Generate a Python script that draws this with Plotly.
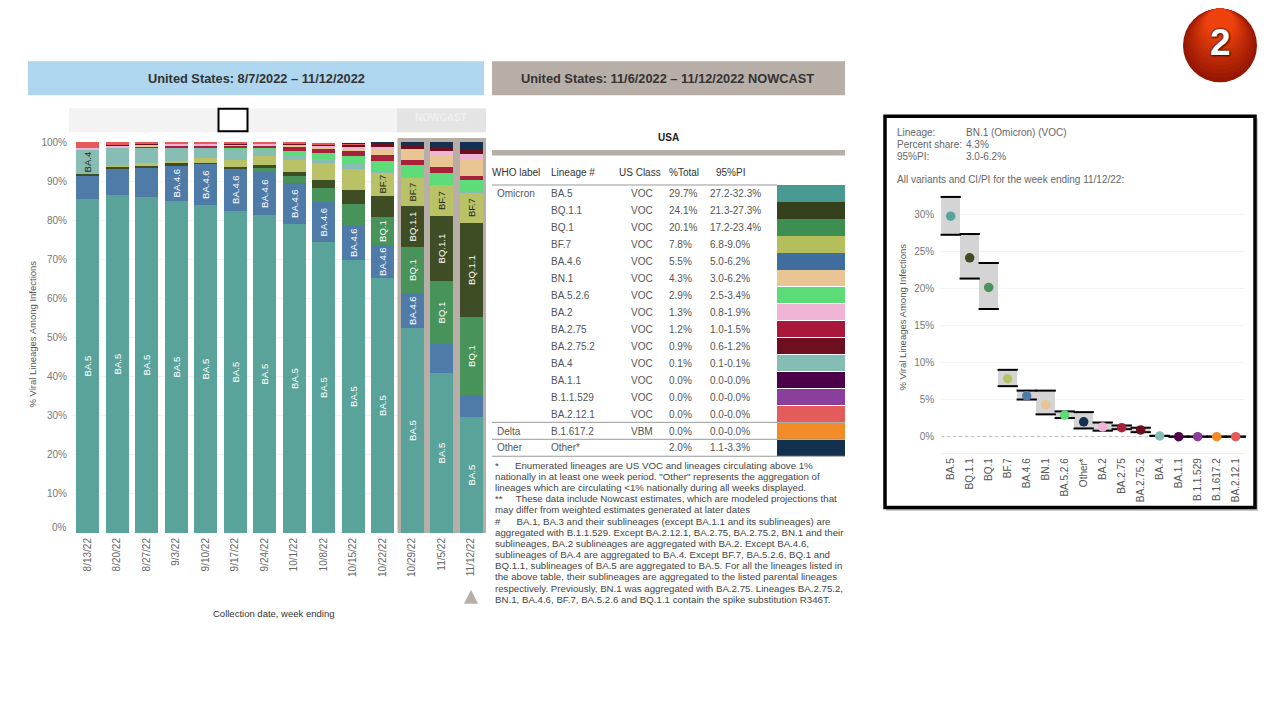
import plotly.graph_objects as go

W, H = 1280, 720
FONT = "Liberation Sans, Arial, sans-serif"
DY = -1.5   # page offset compensation

# ---------- stacked chart data ----------
weeks = ["8/13/22", "8/20/22", "8/27/22", "9/3/22", "9/10/22", "9/17/22", "9/24/22", "10/1/22",
         "10/8/22", "10/15/22", "10/22/22", "10/29/22", "11/5/22", "11/12/22"]
BA5 = [85.5, 86.4, 86, 85, 83.8, 82.3, 81.2, 79.1, 74.5, 69.7, 65.2, 52.4, 41, 29.7]
BA46 = [6, 6.9, 7.6, 9.1, 10.6, 11, 11.1, 10.5, 10.2, 9.1, 8.4, 9, 7.4, 5.5]
BQ1 = [0, 0, 0, 0, 0, 0, 1.3, 1.8, 3.6, 5.3, 7.1, 11.8, 16.1, 20.1]
BQ11 = [.3, .4, .4, .4, .3, .4, .5, .9, 1.9, 3.5, 5.6, 10.3, 16.5, 24.1]
BF7 = [0, .2, .5, .7, 1.2, 1.7, 2.3, 3.1, 4.3, 5.4, 5.9, 7.4, 8, 7.8]
BA4 = [6.2, 4.6, 4.2, 3.5, 2.7, 2.7, 1.7, 1.1, 1.1, 1.4, .1, .1, .1, .1]
BA526 = [0, 0, 0, 0, .1, .4, .4, 1.2, 1.5, 1.9, 2.9, 3, 2.9, 2.9]
BA275 = [.1, .1, .2, .3, .4, .5, .6, 1.1, 1.2, 1.5, 1.5, 1.5, 1.7, 1.2]
BN1 = [.2, .3, .3, .3, .3, .2, .2, .3, .3, .5, 1.4, 2.5, 2.9, 4.3]
BA2 = [.2, .2, .2, .2, .2, .2, .2, .3, .5, .6, .7, .2, 1.1, 1.3]
BA2752 = [0, .1, .1, .1, .1, .2, .2, .3, .3, .4, .6, 1, .9, .9]
BA212 = [1.5, .8, .5, .4, .3, .4, .3, .3, .4, .3, 0, 0, 0, 0]
OTHER = [0, 0, 0, 0, 0, 0, 0, 0, 0, .1, .6, .8, 1.4, 2]

COLORS = {
    "BA.5": "#5aa39b", "BA.4.6": "#4f7ba8", "BQ.1": "#47935a", "BQ.1.1": "#3f4d24",
    "BF.7": "#b9c267", "BA.4": "#88bdb4", "BA.5.2.6": "#5fdc7a", "BA.2.75": "#a8213a",
    "BN.1": "#e8c593", "BA.2": "#f0b4d6", "BA.2.75.2": "#6e0f1f", "BA.2.12.1": "#e35b5b",
    "Other": "#16304f", "BA.1.1": "#4b0049", "B.1.1.529": "#8a3f9c", "B.1.617.2": "#f28c28",
}
stack = [("BA.5", BA5), ("BA.4.6", BA46), ("BQ.1", BQ1), ("BQ.1.1", BQ11), ("BF.7", BF7), ("BA.4", BA4),
         ("BA.5.2.6", BA526), ("BA.2.75", BA275), ("BN.1", BN1), ("BA.2", BA2), ("BA.2.75.2", BA2752),
         ("BA.2.12.1", BA212), ("Other", OTHER)]
labelled_weeks = {"BA.5": range(14), "BA.4": [0], "BA.4.6": range(3, 12), "BQ.1": [10, 11, 12, 13],
                  "BF.7": [10, 11, 12, 13], "BQ.1.1": [11, 12, 13]}
dark_labels = {"BA.4", "BF.7"}

# ---------- table data ----------
who_labels = ["Omicron"] + [""] * 13 + ["Delta", "Other"]
lineages = ["BA.5", "BQ.1.1", "BQ.1", "BF.7", "BA.4.6", "BN.1", "BA.5.2.6", "BA.2", "BA.2.75", "BA.2.75.2",
            "BA.4", "BA.1.1", "B.1.1.529", "BA.2.12.1", "B.1.617.2", "Other*"]
us_class = ["VOC"] * 14 + ["VBM", ""]
pct_total = [29.7, 24.1, 20.1, 7.8, 5.5, 4.3, 2.9, 1.3, 1.2, 0.9, 0.1, 0.0, 0.0, 0.0, 0.0, 2.0]
pi_low = [27.2, 21.3, 17.2, 6.8, 5.0, 3.0, 2.5, 0.8, 1.0, 0.6, 0.1, 0.0, 0.0, 0.0, 0.0, 1.1]
pi_high = [32.3, 27.3, 23.4, 9.0, 6.2, 6.2, 3.4, 1.9, 1.5, 1.2, 0.1, 0.0, 0.0, 0.0, 0.0, 3.3]
swatch_colors = ["#4a9a94", "#34411a", "#3c8f50", "#b4bf5c", "#3f6e9e", "#e8c593", "#5cdc78", "#f0b4d6",
                 "#a8183a", "#6e0f1f", "#85bcb3", "#4b0049", "#8a3f9c", "#e35b5b", "#f28c28", "#14304f"]

footnotes = [
    "*      Enumerated lineages are US VOC and lineages circulating above 1%",
    "nationally in at least one week period. \"Other\" represents the aggregation of",
    "lineages which are circulating &lt;1% nationally during all weeks displayed.",
    "**     These data include Nowcast estimates, which are modeled projections that",
    "may differ from weighted estimates generated at later dates",
    "#      BA.1, BA.3 and their sublineages (except BA.1.1 and its sublineages) are",
    "aggregated with B.1.1.529. Except BA.2.12.1, BA.2.75, BA.2.75.2, BN.1 and their",
    "sublineages, BA.2 sublineages are aggregated with BA.2. Except BA.4.6,",
    "sublineages of BA.4 are aggregated to BA.4. Except BF.7, BA.5.2.6, BQ.1 and",
    "BQ.1.1, sublineages of BA.5 are aggregated to BA.5. For all the lineages listed in",
    "the above table, their sublineages are aggregated to the listed parental lineages",
    "respectively. Previously, BN.1 was aggregated with BA.2.75. Lineages BA.2.75.2,",
    "BN.1, BA.4.6, BF.7, BA.5.2.6 and BQ.1.1 contain the spike substitution R346T.",
]

# ---------- interval chart data ----------
ci_lineages = ["BA.5", "BQ.1.1", "BQ.1", "BF.7", "BA.4.6", "BN.1", "BA.5.2.6", "Other*", "BA.2", "BA.2.75",
               "BA.2.75.2", "BA.4", "BA.1.1", "B.1.1.529", "B.1.617.2", "BA.2.12.1"]
ci_mid = [29.7, 24.1, 20.1, 7.8, 5.5, 4.3, 2.9, 2.0, 1.3, 1.2, 0.9, 0.1, 0.0, 0.0, 0.0, 0.0]
ci_low = [27.2, 21.3, 17.2, 6.8, 5.0, 3.0, 2.5, 1.1, 0.8, 1.0, 0.6, 0.1, 0.0, 0.0, 0.0, 0.0]
ci_high = [32.3, 27.3, 23.4, 9.0, 6.2, 6.2, 3.4, 3.3, 1.9, 1.5, 1.2, 0.1, 0.0, 0.0, 0.0, 0.0]


def px(x): return x / W
def py(y): return 1 - (y + DY) / H


fig = go.Figure()

# stacked bars
for name, vals in stack:
    idx = labelled_weeks.get(name, [])
    fig.add_trace(go.Bar(
        x=list(range(14)), y=vals, width=0.78, marker=dict(color=COLORS[name], line_width=0),
        text=[name if i in idx else "" for i in range(14)],
        textposition="inside", insidetextanchor="middle", textangle=-90, constraintext="none",
        textfont=dict(size=9.5, family=FONT, color="#1c2a20" if name in dark_labels else "#ffffff"),
        xaxis="x", yaxis="y", showlegend=False, name=name))

# table swatches
fig.add_trace(go.Bar(x=[1] * 16, y=list(range(16)), width=0.97, orientation="h",
                     marker=dict(color=swatch_colors, line_width=0), xaxis="x3", yaxis="y3",
                     showlegend=False, hoverinfo="skip"))

# interval chart
fig.add_trace(go.Bar(x=ci_lineages, base=ci_low, y=[h - l for h, l in zip(ci_high, ci_low)], width=1,
                     marker=dict(color="#d4d4d4", line_width=0), xaxis="x2", yaxis="y2", showlegend=False))
for vals in (ci_low, ci_high):
    fig.add_trace(go.Scatter(x=ci_lineages, y=vals, mode="markers", cliponaxis=False,
                             marker=dict(symbol="line-ew", size=14.5, color="#000000",
                                         line=dict(color="#000000", width=2)),
                             xaxis="x2", yaxis="y2", showlegend=False))
fig.add_trace(go.Scatter(x=ci_lineages, y=ci_mid, mode="markers", cliponaxis=False,
                         marker=dict(size=9.5, color=[COLORS[n.rstrip("*")] for n in ci_lineages]),
                         xaxis="x2", yaxis="y2", showlegend=False))

shapes = []


def rect(x0, y0, x1, y1, fill, line=None, lw=0, layer="below"):
    shapes.append(dict(type="rect", xref="paper", yref="paper", x0=px(x0), x1=px(x1), y0=py(y1), y1=py(y0),
                       fillcolor=fill, line=dict(color=line or "rgba(0,0,0,0)", width=lw), layer=layer))


def hline(x0, x1, y, color, lw):
    shapes.append(dict(type="line", xref="paper", yref="paper", x0=px(x0), x1=px(x1), y0=py(y), y1=py(y),
                       line=dict(color=color, width=lw), layer="above"))


rect(28, 61, 484, 95, "#aed6ee")
rect(492, 61, 845, 95, "#b8aea8")
rect(69, 108, 397, 132, "#f3f3f3")
rect(397, 108, 486, 132, "#e4e4e4")
rect(218.5, 108.5, 247.5, 131, "#ffffff", "#000000", 2)
rect(492, 150, 845, 155.5, "#b8aea8")
hline(492, 777, 185, "#999999", 1)
hline(492, 845, 423, "#999999", 1)
hline(492, 845, 440, "#999999", 1)
hline(492, 845, 457, "#999999", 1)
# nowcast band: sits over the gridlines, under the bars
shapes.append(dict(type="rect", xref="x", yref="y", x0=10.5, x1=13.5, y0=0, y1=101.02, fillcolor="#b8aea8",
                   line_width=0, layer="between"))
# interval panel frame with its soft shadow
rect(886, 118, 1258, 512, "#c8c8c8")
rect(885, 116, 1255, 508.5, "#ffffff", "#000000", 3.5)
# dotted zero line of the interval chart
shapes.append(dict(type="line", xref="x2", yref="y2", x0=-0.5, x1=15.5, y0=0, y1=0,
                   line=dict(color="#bbbbbb", width=1, dash="dot"), layer="between"))
# nowcast marker triangle
shapes.append(dict(type="path", xref="paper", yref="paper", fillcolor="#b8aea8", line_width=0, layer="above",
                   path=f"M {px(464)} {py(605)} L {px(478)} {py(605)} L {px(471)} {py(591)} Z"))
# badge
for k in range(12):
    t = k / 11
    r = 37 * (1 - 0.62 * t)
    c = (int(150 + 88 * t), int(22 + 44 * t), int(2 + 12 * t))
    shapes.append(dict(type="circle", xref="paper", yref="paper",
                       x0=px(1220 - r), x1=px(1220 + r), y0=py(8 + 2 * r), y1=py(8),
                       fillcolor=f"rgb{c}", line_width=0, layer="below"))

annotations = []


def text(x, y, s, size=10, color="#555555", anchor="left", bold=False, angle=0, shadow=None):
    font = dict(size=size, color=color, family=FONT)
    if shadow:
        font["shadow"] = shadow
    annotations.append(dict(x=px(x), y=py(y), xref="paper", yref="paper", text=f"<b>{s}</b>" if bold else s,
                            showarrow=False, xanchor=anchor, yanchor="middle", font=font, textangle=angle,
                            borderpad=0, borderwidth=0))


text(256, 78.5, "United States: 8/7/2022 – 11/12/2022", 12.8, "#333333", "center", True)
text(667, 78.5, "United States: 11/6/2022 – 11/12/2022 NOWCAST", 12.8, "#333333", "center", True)
text(441, 117.5, "NOWCAST", 10, "#efefef", "center", True)
text(33, 335, "% Viral Lineages Among Infections", 9.5, "#555555", "center", angle=-90)
text(66.5, 528, "0%", 10, "#777777", "right")
text(273, 615, "Collection date, week ending", 9.5, "#333333", "center")
text(668, 137.5, "USA", 10, "#222222", "center", True)

for x, s in zip([492, 551, 619, 668.5, 716], ["WHO label", "Lineage #", "US Class", "%Total", "95%PI"]):
    text(x, 172, s, 10, "#333333")
for i in range(16):
    y = 193.7 + 17 * i
    text(497, y, who_labels[i])
    text(551, y, lineages[i])
    text(631, y, us_class[i])
    text(669, y, f"{pct_total[i]:.1f}%")
    text(710, y, f"{pi_low[i]:.1f}-{pi_high[i]:.1f}%")
for i, line in enumerate(footnotes):
    text(495, 466 + 11.2 * i, line, 9.7, "#444444")

text(897, 132, "Lineage:", 10, "#666666")
text(966, 132, "BN.1 (Omicron) (VOC)", 10, "#666666")
text(897, 144, "Percent share:", 10, "#666666")
text(966, 144, "4.3%", 10, "#666666")
text(897, 156, "95%PI:", 10, "#666666")
text(966, 156, "3.0-6.2%", 10, "#666666")
text(897, 179, "All variants and CI/PI for the week ending 11/12/22:", 10, "#666666")
text(903, 318, "% Viral Lineages Among Infections", 9.5, "#555555", "center", angle=-90)
text(1220, 42.5, "2", 37, "#ffffff", "center", True,
     shadow="0 0 2px #4a0d00, 0 0 2px #4a0d00, 1px 1px 2px #4a0d00")

fig.update_layout(
    width=W, height=H, margin=dict(l=0, r=0, t=0, b=0, pad=0), autosize=False,
    paper_bgcolor="#ffffff", plot_bgcolor="rgba(0,0,0,0)", barmode="stack", bargap=0,
    font=dict(family=FONT, color="#666666", size=10), shapes=shapes, annotations=annotations,
    xaxis=dict(domain=[px(73), px(486)], range=[-0.5, 13.5], tickvals=list(range(14)), ticktext=weeks, tickangle=-90,
               showgrid=False, zeroline=False, showline=False, ticks="", ticklabelstandoff=2,
               tickfont=dict(size=10, color="#666666"), anchor="y"),
    yaxis=dict(domain=[py(534), py(138)], range=[0, 101.02], tickvals=list(range(0, 101, 10)),
               ticktext=[""] + [f"{v}%" for v in range(10, 101, 10)], showgrid=True, gridcolor="#f3f3f3",
               zeroline=False, showline=False, ticks="", ticklabelstandoff=5,
               tickfont=dict(size=10, color="#777777"), anchor="x"),
    xaxis2=dict(domain=[px(941.2), px(1245.2)], range=[-0.5, 15.5], type="category",
                categoryorder="array", categoryarray=ci_lineages, tickangle=-90,
                showgrid=False, zeroline=False, showline=True, linecolor="#eeeeee", ticks="", ticklabelstandoff=0,
                tickfont=dict(size=10, color="#555555"), anchor="y2"),
    yaxis2=dict(domain=[py(454), py(194)], range=[-2.24, 32.7], tickvals=[0, 5, 10, 15, 20, 25, 30],
                ticktext=["0%", "5%", "10%", "15%", "20%", "25%", "30%"], showgrid=True, gridcolor="#f4f4f4",
                zeroline=False, showline=False, ticks="",
                ticklabelstandoff=6, tickfont=dict(size=10, color="#777777"), anchor="x2"),
    xaxis3=dict(domain=[px(777), px(845)], range=[0, 1], visible=False, anchor="y3"),
    yaxis3=dict(domain=[py(457), py(185)], range=[15.5, -0.5], visible=False, anchor="x3"),
)

fig.write_html("out.html", config={"displayModeBar": False},
               post_script="document.body.style.margin='0';document.body.style.overflow='hidden';")
